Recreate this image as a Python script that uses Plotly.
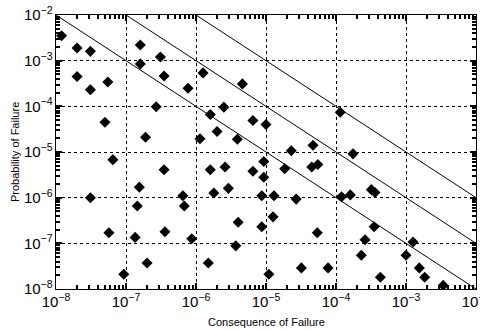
import plotly.graph_objects as go
import numpy as np

# Consequence (x) and probability (y) of failure
consequence = [1.2e-8, 2e-8, 3.1e-8, 2e-8, 3.1e-8, 5.5e-8, 5e-8, 6.5e-8, 3.1e-8, 5.7e-8,
               9.3e-8, 1.45e-7, 1.55e-7, 1.35e-7, 2e-7, 1.6e-7, 1.6e-7, 3.1e-7, 2.7e-7, 1.9e-7,
               3.5e-7, 7.7e-7, 1.26e-6, 4.6e-6, 1.6e-6, 2.5e-6, 2e-6, 1.14e-6, 3.9e-6, 6.5e-6,
               1e-5, 2.3e-5, 4.7e-5, 9.3e-6, 3.5e-7, 1.6e-6, 2.6e-6, 6.5e-6, 9.3e-6, 1.85e-5,
               4.5e-5, 5.5e-5, 6.5e-7, 6.8e-7, 1.8e-6, 2.9e-6, 8.7e-6, 1.3e-5, 2.7e-5, 3.6e-7,
               8.7e-7, 4e-6, 3.7e-6, 8.7e-6, 1.26e-5, 1.5e-6, 1.1e-5, 3.2e-5, 5.4e-5, 7.7e-5,
               1.2e-4, 1.6e-4, 3.2e-4, 3.6e-4, 3.5e-4, 2.6e-4, 2.3e-4, 4.3e-4, 1e-3, 1.26e-3,
               1.55e-3, 1.85e-3, 3.4e-3, 1.15e-4, 1.75e-4]
probability = [3.5e-3, 1.9e-3, 1.6e-3, 4.5e-4, 2.3e-4, 3.4e-4, 4.5e-5, 6.8e-6, 1e-6, 1.7e-7,
               2.1e-8, 6.6e-7, 1.7e-6, 1.35e-7, 3.7e-8, 2.2e-3, 8.5e-4, 1.2e-3, 9.8e-5, 2.1e-5,
               4.6e-4, 2.5e-4, 5.4e-4, 3.1e-4, 6.6e-5, 9.6e-5, 2.8e-5, 1.95e-5, 1.9e-5, 4.9e-5,
               4e-5, 1.07e-5, 1.4e-5, 6.2e-6, 4.1e-6, 4.1e-6, 4.7e-6, 3.8e-6, 2.8e-6, 4.3e-6,
               4.7e-6, 5.3e-6, 1.1e-6, 6.6e-7, 1.26e-6, 1.6e-6, 1.1e-6, 1.1e-6, 9.3e-7, 1.8e-7,
               1.26e-7, 2.9e-7, 8.8e-8, 2.3e-7, 3.8e-7, 3.7e-8, 2.1e-8, 2.9e-8, 1.7e-7, 2.9e-8,
               1.05e-6, 1.15e-6, 1.5e-6, 1.3e-6, 2.3e-7, 1.2e-7, 5.5e-8, 1.8e-8, 5.5e-8, 1.07e-7,
               2.9e-8, 1.8e-8, 1.2e-8, 7.4e-5, 9.1e-6]

# Iso-risk lines: probability * consequence = constant
risk_levels = [1e-10, 1e-9, 1e-8]
x_min, x_max = 1e-8, 1e-2
y_max = 1e-2

FONT = "Liberation Sans, Arial"

fig = go.Figure()
for r in risk_levels:
    x_start = max(x_min, r / y_max)
    xs = np.array([x_start, x_max])
    fig.add_trace(go.Scatter(x=xs, y=r / xs, mode="lines",
                             line=dict(color="black", width=1), showlegend=False,
                             hoverinfo="skip"))

fig.add_trace(go.Scatter(x=consequence, y=probability, mode="markers",
                         marker=dict(symbol="diamond", color="black", size=8.5,
                                     line=dict(width=0)),
                         showlegend=False))

axis_common = dict(
    type="log", dtick=1, exponentformat="power", showexponent="all",
    showline=True, linecolor="black", linewidth=1, mirror="ticks",
    ticks="inside", ticklen=6, tickcolor="black", tickwidth=1.5,
    minor=dict(ticks="inside", ticklen=4, tickcolor="black", tickwidth=1.5, showgrid=False),
    showgrid=True, gridcolor="black", griddash="dot", gridwidth=1,
    zeroline=False, automargin=False, ticklabeloverflow="allow",
    tickfont=dict(family=FONT, size=12, color="black"),
)

fig.update_xaxes(range=[-8, -2], **axis_common)
fig.update_yaxes(range=[-8, -2], **axis_common)

fig.add_annotation(text="Consequence of Failure", xref="paper", yref="paper",
                   x=0.5, y=0, yshift=-33, xanchor="center", yanchor="middle",
                   showarrow=False, font=dict(family=FONT, size=11, color="black"))
fig.add_annotation(text="Probability of Failure", xref="paper", yref="paper",
                   x=0, y=0.5, xshift=-41, xanchor="center", yanchor="middle",
                   textangle=-90, showarrow=False,
                   font=dict(family=FONT, size=11, color="black"))

fig.update_layout(width=480, height=331,
                  margin=dict(l=56, r=4, t=15, b=42),
                  plot_bgcolor="white", paper_bgcolor="white")

fig.write_html("out.html", config={"displayModeBar": False},
               post_script="document.body.style.margin='0';document.body.style.overflow='hidden';")
